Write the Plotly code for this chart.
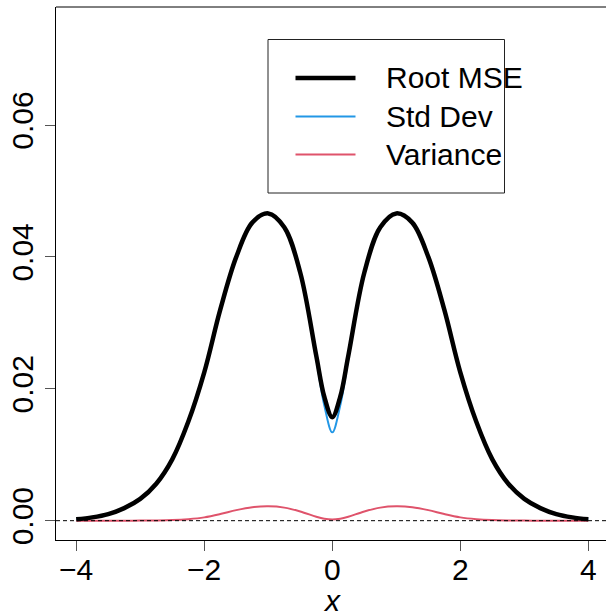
import plotly.graph_objects as go

# Grid of x values and the three curves evaluated on it
x_vals = [-4, -3.75, -3.5, -3.25, -3, -2.75, -2.5, -2.25, -2, -1.75, -1.5, -1.25,
          -1, -0.75, -0.5, -0.25, -0.125, 0, 0.125, 0.25, 0.5, 0.75, 1, 1.25,
          1.5, 1.75, 2, 2.25, 2.5, 2.75, 3, 3.25, 3.5, 3.75, 4]

root_mse = [0.0002, 0.0005, 0.0010, 0.0019, 0.0033, 0.0056, 0.0093, 0.0150, 0.0225,
            0.0320, 0.0400, 0.0452, 0.0466, 0.0445, 0.0376, 0.0250, 0.0188, 0.0157,
            0.0188, 0.0250, 0.0376, 0.0445, 0.0466, 0.0452, 0.0400, 0.0320, 0.0225,
            0.0150, 0.0093, 0.0056, 0.0033, 0.0019, 0.0010, 0.0005, 0.0002]

std_dev = [0.0002, 0.0005, 0.0010, 0.0019, 0.0033, 0.0056, 0.0093, 0.0150, 0.0225,
           0.0320, 0.0400, 0.0452, 0.0466, 0.0445, 0.0375, 0.0245, 0.0175, 0.0134,
           0.0175, 0.0245, 0.0375, 0.0445, 0.0466, 0.0452, 0.0400, 0.0320, 0.0225,
           0.0150, 0.0093, 0.0056, 0.0033, 0.0019, 0.0010, 0.0005, 0.0002]

variance = [0.0, 0.0, 0.0, 0.0, 0.00001, 0.00003, 0.00009, 0.00023, 0.0005,
            0.0010, 0.0016, 0.00204, 0.00217, 0.00198, 0.0014, 0.0006, 0.0003, 0.00018,
            0.0003, 0.0006, 0.0014, 0.00198, 0.00217, 0.00204, 0.0016, 0.0010, 0.0005,
            0.00023, 0.00009, 0.00003, 0.00001, 0.0, 0.0, 0.0, 0.0]

legend_labels = ["Root MSE", "Std Dev", "Variance"]
x_ticks = [-4, -2, 0, 2, 4]
x_tick_text = ["\u22124", "\u22122", "0", "2", "4"]
y_ticks = [0.00, 0.02, 0.04, 0.06]
y_tick_text = ["0.00", "0.02", "0.04", "0.06"]

BLACK = "#000000"
BLUE = "#2297E6"
RED = "#DF536B"
FONT = "Liberation Sans, Arial, sans-serif"

W, H = 606, 616
M_L, M_R, M_T, M_B = 56, 0, 7, 76
X_RANGE = [-4.316, 4.276]
Y_RANGE = [-0.00293, 0.0779]

fig = go.Figure()
fig.add_trace(go.Scatter(x=x_vals, y=std_dev, mode="lines",
                         line=dict(color=BLUE, width=2, shape="spline", smoothing=1.0)))
fig.add_trace(go.Scatter(x=x_vals, y=variance, mode="lines",
                         line=dict(color=RED, width=2, shape="spline", smoothing=1.0)))
fig.add_trace(go.Scatter(x=x_vals, y=root_mse, mode="lines",
                         line=dict(color=BLACK, width=4.5, shape="spline", smoothing=1.0)))

pw = W - M_L - M_R
ph = H - M_T - M_B


def px(xp):
    """Page pixel column -> paper x."""
    return (xp - M_L) / pw


def py(yp):
    """Page pixel row -> paper y."""
    return (H - M_B - yp) / ph


shapes = [
    # horizontal reference at zero
    dict(type="line", xref="paper", yref="y", x0=0, x1=1, y0=0, y1=0,
         line=dict(color=BLACK, width=1, dash="4px,3px")),
    # plot frame (right side runs past the page edge)
    dict(type="line", xref="paper", yref="paper", x0=0, x1=1, y0=1, y1=1,
         line=dict(color=BLACK, width=1)),
    # legend box
    dict(type="rect", xref="paper", yref="paper",
         x0=px(268), x1=px(504.5), y0=py(193), y1=py(39.5),
         line=dict(color="#222222", width=1), fillcolor="white", layer="above"),
]

legend_rows = [78, 116.5, 154.5]
legend_styles = [(BLACK, 4.5), (BLUE, 2), (RED, 2)]
annotations = []
for label, yrow, (col, lw) in zip(legend_labels, legend_rows, legend_styles):
    shapes.append(dict(type="line", xref="paper", yref="paper",
                       x0=px(295.5), x1=px(355.5), y0=py(yrow), y1=py(yrow),
                       line=dict(color=col, width=lw), layer="above"))
    annotations.append(dict(text=label, xref="paper", yref="paper",
                            x=px(384), y=py(yrow), xanchor="left", yanchor="middle",
                            showarrow=False, font=dict(family=FONT, size=30, color=BLACK)))

# x tick labels, set close under the tick marks
for tv, tt in zip(x_ticks, x_tick_text):
    annotations.append(dict(text=tt, xref="x", yref="paper", x=tv, y=py(569),
                            xanchor="center", yanchor="middle", showarrow=False,
                            height=30,
                            font=dict(family=FONT, size=30, color=BLACK)))

# x-axis title
annotations.append(dict(text="<i>x</i>", xref="x", yref="paper", x=0, y=py(600),
                        xanchor="center", yanchor="middle", showarrow=False,
                        height=26,
                        font=dict(family=FONT, size=30, color=BLACK)))

fig.update_layout(
    width=W, height=H,
    margin=dict(l=M_L, r=M_R, t=M_T, b=M_B, pad=0),
    paper_bgcolor="white", plot_bgcolor="white",
    showlegend=False,
    font=dict(family=FONT, size=30, color=BLACK),
    shapes=shapes,
    annotations=annotations,
    xaxis=dict(range=X_RANGE, tickvals=x_ticks, showticklabels=False,
               ticks="outside", ticklen=10, tickcolor="#555555", tickwidth=1,
               showline=True, linecolor=BLACK, linewidth=1,
               showgrid=False, zeroline=False),
    yaxis=dict(range=Y_RANGE, tickvals=y_ticks, ticktext=y_tick_text,
               tickangle=-90,
               ticks="outside", ticklen=10, tickcolor="#555555", tickwidth=1,
               showline=True, linecolor=BLACK, linewidth=1,
               showgrid=False, zeroline=False,
               tickfont=dict(family=FONT, size=30, color=BLACK)),
)

fig.write_html("out.html")
